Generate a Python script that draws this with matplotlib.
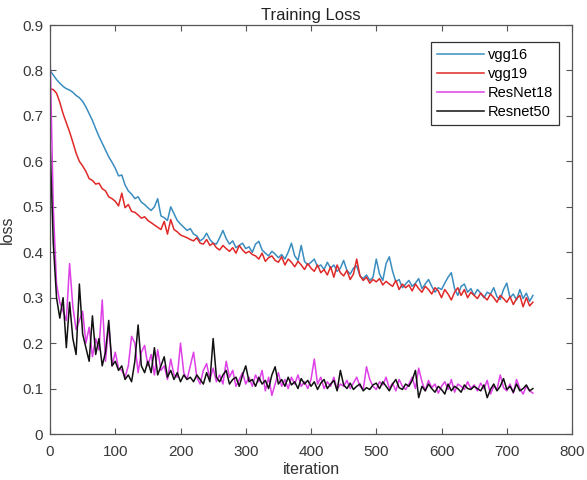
import matplotlib.pyplot as plt

# Training loss, one value every 5 iterations
iteration = list(range(0, 745, 5))

vgg16 = [
    0.800, 0.790, 0.780, 0.772, 0.765, 0.760, 0.757, 0.752, 0.745, 0.740,
    0.732, 0.720, 0.705, 0.690, 0.672, 0.655, 0.640, 0.625, 0.610, 0.598,
    0.585, 0.568, 0.570, 0.548, 0.535, 0.528, 0.518, 0.522, 0.510, 0.505,
    0.498, 0.492, 0.500, 0.518, 0.480, 0.476, 0.470, 0.500, 0.485, 0.470,
    0.462, 0.455, 0.448, 0.452, 0.440, 0.436, 0.425, 0.430, 0.442, 0.428,
    0.420, 0.418, 0.432, 0.448, 0.430, 0.418, 0.425, 0.410, 0.415, 0.420,
    0.408, 0.412, 0.400, 0.418, 0.424, 0.405, 0.398, 0.392, 0.402, 0.396,
    0.388, 0.395, 0.385, 0.400, 0.420, 0.392, 0.382, 0.415, 0.380, 0.372,
    0.378, 0.385, 0.368, 0.372, 0.362, 0.378, 0.365, 0.372, 0.358, 0.365,
    0.382, 0.360, 0.352, 0.365, 0.370, 0.348, 0.342, 0.350, 0.338, 0.345,
    0.385, 0.352, 0.338, 0.375, 0.390, 0.358, 0.335, 0.340, 0.322, 0.330,
    0.338, 0.325, 0.332, 0.342, 0.320, 0.330, 0.340, 0.325, 0.312, 0.322,
    0.318, 0.332, 0.345, 0.355, 0.320, 0.305, 0.325, 0.330, 0.312, 0.320,
    0.305, 0.318, 0.310, 0.300, 0.312, 0.308, 0.322, 0.302, 0.296, 0.318,
    0.332, 0.300, 0.308, 0.295, 0.318, 0.298, 0.310, 0.292, 0.305,
]

vgg19 = [
    0.760, 0.758, 0.750, 0.730, 0.705, 0.685, 0.665, 0.642, 0.618, 0.600,
    0.590, 0.578, 0.562, 0.558, 0.550, 0.552, 0.540, 0.535, 0.522, 0.518,
    0.512, 0.502, 0.530, 0.498, 0.505, 0.490, 0.488, 0.482, 0.475, 0.478,
    0.470, 0.465, 0.460, 0.455, 0.450, 0.468, 0.440, 0.472, 0.450, 0.445,
    0.438, 0.435, 0.432, 0.428, 0.425, 0.432, 0.420, 0.418, 0.428, 0.415,
    0.420, 0.410, 0.405, 0.415, 0.408, 0.402, 0.410, 0.398, 0.415, 0.405,
    0.398, 0.402, 0.395, 0.392, 0.385, 0.398, 0.380, 0.388, 0.392, 0.382,
    0.378, 0.390, 0.372, 0.385, 0.378, 0.368, 0.380, 0.372, 0.362, 0.375,
    0.365, 0.358, 0.372, 0.355, 0.362, 0.350, 0.368, 0.345, 0.372, 0.355,
    0.348, 0.360, 0.340, 0.352, 0.385, 0.348, 0.338, 0.345, 0.332, 0.340,
    0.335, 0.342, 0.328, 0.336, 0.330, 0.325, 0.338, 0.318, 0.330, 0.322,
    0.328, 0.315, 0.330, 0.320, 0.312, 0.325, 0.318, 0.308, 0.322, 0.315,
    0.300, 0.318, 0.308, 0.295, 0.312, 0.322, 0.305, 0.318, 0.300, 0.312,
    0.305, 0.298, 0.310, 0.302, 0.295, 0.308, 0.300, 0.290, 0.305, 0.298,
    0.290, 0.302, 0.285, 0.298, 0.305, 0.280, 0.300, 0.282, 0.290,
]

resnet18 = [
    0.840, 0.500, 0.330, 0.290, 0.270, 0.250, 0.375, 0.280, 0.230, 0.250,
    0.270, 0.200, 0.235, 0.170, 0.210, 0.185, 0.295, 0.160, 0.240, 0.150,
    0.180, 0.145, 0.140, 0.125, 0.150, 0.215, 0.200, 0.135, 0.180, 0.195,
    0.150, 0.175, 0.130, 0.185, 0.140, 0.150, 0.120, 0.165, 0.130, 0.125,
    0.200, 0.135, 0.120, 0.150, 0.180, 0.125, 0.110, 0.140, 0.155, 0.120,
    0.145, 0.115, 0.130, 0.110, 0.160, 0.125, 0.140, 0.105, 0.120, 0.135,
    0.110, 0.125, 0.105, 0.130, 0.115, 0.140, 0.095, 0.125, 0.085, 0.110,
    0.135, 0.105, 0.120, 0.100, 0.125, 0.110, 0.130, 0.105, 0.115, 0.100,
    0.120, 0.165, 0.110, 0.125, 0.100, 0.115, 0.105, 0.125, 0.098, 0.110,
    0.105, 0.118, 0.100, 0.112, 0.125, 0.105, 0.098, 0.148, 0.120, 0.105,
    0.098, 0.115, 0.108, 0.125, 0.100, 0.112, 0.095, 0.120, 0.105, 0.098,
    0.110, 0.125, 0.100, 0.145, 0.115, 0.095, 0.118, 0.102, 0.110, 0.090,
    0.105, 0.115, 0.098, 0.120, 0.092, 0.110, 0.105, 0.098, 0.115, 0.100,
    0.108, 0.095, 0.112, 0.100, 0.118, 0.088, 0.105, 0.098, 0.130, 0.102,
    0.095, 0.110, 0.090, 0.120, 0.100, 0.088, 0.105, 0.095, 0.090,
]

resnet50 = [
    0.645, 0.420, 0.300, 0.255, 0.300, 0.190, 0.290, 0.210, 0.175, 0.330,
    0.220, 0.190, 0.160, 0.260, 0.175, 0.210, 0.150, 0.180, 0.250, 0.150,
    0.160, 0.140, 0.150, 0.120, 0.130, 0.115, 0.160, 0.240, 0.150, 0.135,
    0.160, 0.135, 0.190, 0.130, 0.150, 0.170, 0.125, 0.140, 0.120, 0.135,
    0.115, 0.130, 0.120, 0.125, 0.115, 0.130, 0.120, 0.110, 0.135, 0.115,
    0.210, 0.125, 0.115, 0.130, 0.140, 0.110, 0.120, 0.125, 0.105, 0.130,
    0.150, 0.115, 0.120, 0.105, 0.125, 0.110, 0.118, 0.100, 0.130, 0.148,
    0.110, 0.120, 0.105, 0.125, 0.108, 0.115, 0.100, 0.122, 0.110, 0.118,
    0.105, 0.115, 0.098, 0.112, 0.120, 0.100, 0.110, 0.118, 0.095, 0.140,
    0.108, 0.100, 0.112, 0.098, 0.105, 0.110, 0.095, 0.102, 0.098, 0.108,
    0.112, 0.100, 0.115, 0.105, 0.095, 0.110, 0.120, 0.102, 0.098, 0.110,
    0.105, 0.118, 0.140, 0.080, 0.105, 0.095, 0.110, 0.100, 0.092, 0.105,
    0.098, 0.088, 0.110, 0.095, 0.105, 0.100, 0.092, 0.108, 0.100, 0.098,
    0.105, 0.100, 0.095, 0.108, 0.080, 0.098, 0.110, 0.095, 0.105, 0.122,
    0.098, 0.105, 0.092, 0.110, 0.095, 0.100, 0.108, 0.095, 0.100,
]

plt.rcParams['font.family'] = ['Liberation Sans', 'DejaVu Sans']
plt.rcParams['font.size'] = 11

fig = plt.figure(figsize=(5.87, 4.80), dpi=100)
# axes box: x 50..572 px, y 25..434 px
ax = fig.add_axes([0.0852, 0.0958, 0.8893, 0.852])

ax.plot(iteration, vgg16, color='#3a8dc0', lw=1.1, label='vgg16')
ax.plot(iteration, vgg19, color='#e02828', lw=1.1, label='vgg19')
ax.plot(iteration, resnet18, color='#de3fe6', lw=1.1, label='ResNet18')
ax.plot(iteration, resnet50, color='#111111', lw=1.1, label='Resnet50')

ax.set_xlim(0, 800)
ax.set_ylim(0, 0.9)
ax.set_xticks(range(0, 801, 100))
ax.set_yticks([i / 10 for i in range(10)])
ax.set_yticklabels(['0'] + ['%.1f' % (i / 10) for i in range(1, 10)])

grey = '#555555'
for s in ax.spines.values():
    s.set_color(grey)
    s.set_linewidth(0.9)
ax.tick_params(direction='in', top=True, right=True, colors=grey,
               labelcolor='#3a3a3a', length=4, width=0.8)
ax.tick_params(axis='x', pad=8)
ax.tick_params(axis='y', pad=5)

ax.set_title('Training Loss', color='#222222', fontsize=12, pad=4)
ax.set_xlabel('iteration', color='#333333', fontsize=11.5, labelpad=2)
ax.set_ylabel('loss', color='#333333', fontsize=11.5, labelpad=5)

leg = ax.legend(loc='upper right', bbox_to_anchor=(0.975, 0.958),
                borderaxespad=0, fancybox=False, framealpha=1,
                edgecolor='#333333', handlelength=3.2, handletextpad=0.3,
                borderpad=0.4, labelspacing=0.35, fontsize=10.5)
leg.get_frame().set_linewidth(0.9)

fig.savefig('out.png', dpi=100)
